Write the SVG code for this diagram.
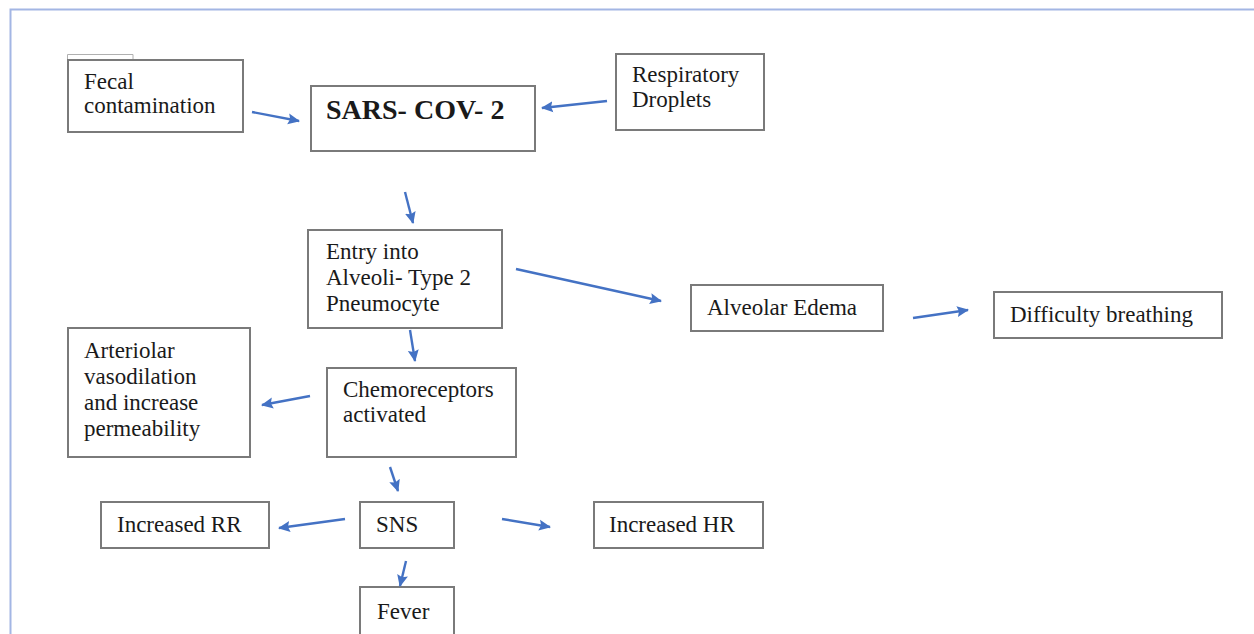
<svg xmlns="http://www.w3.org/2000/svg" width="1254" height="634" viewBox="0 0 1254 634">
<defs>
<marker id="ah" markerWidth="13" markerHeight="12" refX="11" refY="6" orient="auto" markerUnits="userSpaceOnUse">
<path d="M0,0.5 L12,6 L0,11.5 L2,6 Z" fill="#4472C4"/>
</marker>
<style>
.box{fill:#fff;stroke:#7a7a7a;stroke-width:2}
.t{font-family:"Liberation Serif","Times New Roman",serif;font-size:23px;fill:#1a1a1a}
.b{font-family:"Liberation Serif","Times New Roman",serif;font-size:28px;font-weight:bold;fill:#1a1a1a}
.c{fill:none;stroke:#4472C4;stroke-width:2.4;marker-end:url(#ah)}
</style>
</defs>
<rect width="1254" height="634" fill="#fff"/>
<path d="M10.5,634 V9.5 H1254" fill="none" stroke="#a3b6e4" stroke-width="2"/>
<g id="fecal">
<path d="M67.5,60 V54.5 H133 V60" fill="none" stroke="#b0b0b0" stroke-width="1"/>
<rect class="box" x="68" y="60" width="175" height="72"/>
<text class="t" x="84" y="89">Fecal</text>
<text class="t" x="84" y="113">contamination</text>
</g>
<g id="sars">
<rect class="box" x="311" y="86" width="224" height="65"/>
<text class="b" x="326" y="119">SARS- COV- 2</text>
</g>
<g id="respiratory">
<rect class="box" x="616" y="54" width="148" height="76"/>
<text class="t" x="632" y="82">Respiratory</text>
<text class="t" x="632" y="107">Droplets</text>
</g>
<g id="entry">
<rect class="box" x="308" y="230" width="194" height="98"/>
<text class="t" x="326" y="259">Entry into</text>
<text class="t" x="326" y="285">Alveoli- Type 2</text>
<text class="t" x="326" y="311">Pneumocyte</text>
</g>
<g id="edema">
<rect class="box" x="691" y="285" width="192" height="46"/>
<text class="t" x="707" y="315">Alveolar Edema</text>
</g>
<g id="difficulty">
<rect class="box" x="994" y="292" width="228" height="46"/>
<text class="t" x="1010" y="322">Difficulty breathing</text>
</g>
<g id="arteriolar">
<rect class="box" x="68" y="328" width="182" height="129"/>
<text class="t" x="84" y="358">Arteriolar</text>
<text class="t" x="84" y="384">vasodilation</text>
<text class="t" x="84" y="410">and increase</text>
<text class="t" x="84" y="436">permeability</text>
</g>
<g id="chemo">
<rect class="box" x="327" y="368" width="189" height="89"/>
<text class="t" x="343" y="397">Chemoreceptors</text>
<text class="t" x="343" y="422">activated</text>
</g>
<g id="rr">
<rect class="box" x="101" y="502" width="168" height="46"/>
<text class="t" x="117" y="532">Increased RR</text>
</g>
<g id="sns">
<rect class="box" x="360" y="502" width="94" height="46"/>
<text class="t" x="376" y="532">SNS</text>
</g>
<g id="hr">
<rect class="box" x="594" y="502" width="169" height="46"/>
<text class="t" x="609" y="532">Increased HR</text>
</g>
<g id="fever">
<rect class="box" x="360" y="587" width="94" height="52"/>
<text class="t" x="377" y="619">Fever</text>
</g>
<g id="connectors">
<line class="c" x1="252" y1="112" x2="299" y2="121"/>
<line class="c" x1="607" y1="101" x2="542" y2="108"/>
<line class="c" x1="405" y1="192" x2="413" y2="223"/>
<line class="c" x1="516" y1="269" x2="661" y2="301"/>
<line class="c" x1="913" y1="318" x2="968" y2="310"/>
<line class="c" x1="410" y1="330" x2="415" y2="361"/>
<line class="c" x1="310" y1="396" x2="262" y2="405"/>
<line class="c" x1="390" y1="467" x2="398" y2="491"/>
<line class="c" x1="345" y1="519" x2="279" y2="528"/>
<line class="c" x1="502" y1="519" x2="550" y2="527"/>
<line class="c" x1="406" y1="561" x2="400" y2="586"/>
</g>
</svg>
